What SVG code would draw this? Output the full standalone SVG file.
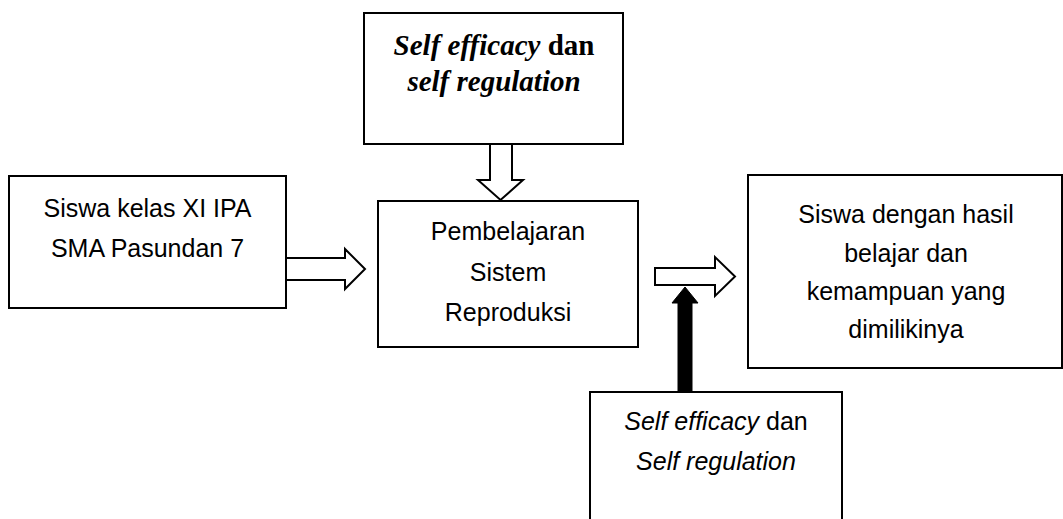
<svg xmlns="http://www.w3.org/2000/svg" width="1063" height="519" viewBox="0 0 1063 519">
<style>
.box{fill:#fff;stroke:#000;stroke-width:2}
.harrow{fill:#fff;stroke:#000;stroke-width:2;stroke-linejoin:miter}
.sans{font-family:"Liberation Sans",Arial,sans-serif;font-size:25px;fill:#000;text-anchor:middle}
.serif{font-family:"Liberation Serif","Times New Roman",serif;font-size:29px;font-weight:bold;fill:#000;text-anchor:middle}
</style>
<rect width="1063" height="519" fill="#fff"/>
<g id="connectors">
<polygon class="harrow" points="490,144 512,144 512,180 523,180 500.5,200 478,180 490,180"/>
<polygon class="harrow" points="286,258 345,258 345,249 365,269 345,289 345,280 286,280"/>
<polygon class="harrow" points="655,268 715,268 715,257 735,276.5 715,296 715,285 655,285"/>
<polygon fill="#000" stroke="#000" stroke-width="1" points="678,393 692,393 692,303 698,303 685,287 672,303 678,303"/>
</g>
<g id="node-top">
<rect class="box" x="364" y="13" width="259" height="131"/>
<text class="serif" x="494" y="55"><tspan font-style="italic">Self efficacy</tspan> dan</text>
<text class="serif" x="494" y="91" font-style="italic">self regulation</text>
</g>
<g id="node-left">
<rect class="box" x="9" y="176" width="277" height="132"/>
<text class="sans" x="147.5" y="217">Siswa kelas XI IPA</text>
<text class="sans" x="147.5" y="257">SMA Pasundan 7</text>
</g>
<g id="node-middle">
<rect class="box" x="378" y="201" width="260" height="146"/>
<text class="sans" x="508" y="240">Pembelajaran</text>
<text class="sans" x="508" y="281">Sistem</text>
<text class="sans" x="508" y="321">Reproduksi</text>
</g>
<g id="node-right">
<rect class="box" x="748" y="175" width="314" height="193"/>
<text class="sans" x="906" y="223">Siswa dengan hasil</text>
<text class="sans" x="906" y="262">belajar dan</text>
<text class="sans" x="906" y="300">kemampuan yang</text>
<text class="sans" x="906" y="338">dimilikinya</text>
</g>
<g id="node-bottom">
<rect class="box" x="590" y="392" width="252" height="140"/>
<text class="sans" x="716" y="430"><tspan font-style="italic">Self efficacy</tspan> dan</text>
<text class="sans" x="716" y="470" font-style="italic">Self regulation</text>
</g>
</svg>
